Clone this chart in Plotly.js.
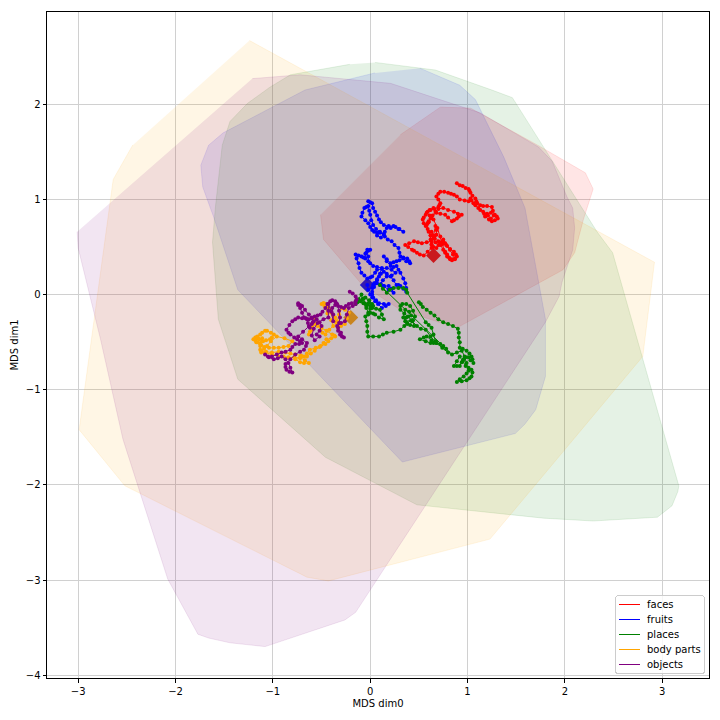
<!DOCTYPE html>
<html>
<head>
<meta charset="utf-8">
<script src="https://cdn.plot.ly/plotly-3.0.1.min.js"></script>
<style>html,body{margin:0;padding:0;background:#fff}</style>
</head>
<body>
<div id="plot" style="width:720px;height:720px"></div>
<script>
var categories = ['faces', 'fruits', 'places', 'body parts', 'objects'];
var colors = ['#ff0000', '#0000ff', '#008000', '#ffa500', '#800080'];

// hull outlines, [dim0, dim1]
var hullFaces = [[-.51,.84],[-.48,.58],[-.08,.10],[.31,-.16],[.89,-.35],[1.98,.26],[2.10,.44],[2.19,.79],[2.29,1.11],[2.21,1.28],[1.72,1.57],[1.03,1.96],[.72,1.97],[.31,1.68]];
var hullFruits = [[.51,2.38],[.92,2.20],[1.08,2.05],[1.37,1.45],[1.59,.91],[1.80,-.26],[1.80,-.86],[1.70,-1.21],[1.59,-1.36],[1.49,-1.46],[.33,-1.76],[-1.36,.05],[-1.61,.82],[-1.72,1.13],[-1.74,1.36],[-1.66,1.57],[-1.51,1.70],[-.67,2.15],[.05,2.33]];
var hullPlaces = [[.05,2.44],[.67,2.36],[1.25,2.15],[1.46,2.07],[2.33,.66],[2.49,.44],[3.17,-2.01],[3.16,-2.07],[3.10,-2.22],[2.95,-2.34],[2.29,-2.38],[1.78,-2.35],[.48,-2.21],[-.46,-1.71],[-1.36,-.89],[-1.56,-.26],[-1.62,.55],[-1.59,.92],[-1.52,1.57],[-1.44,1.82],[-1.26,2.01],[-1.03,2.18],[-.82,2.31],[-.21,2.42]];
var hullBody = [[-1.24,2.67],[2.92,.34],[2.80,-.65],[1.23,-2.57],[-.43,-3.01],[-.65,-2.97],[-2.52,-2.01],[-2.99,-1.42],[-2.64,1.21],[-2.57,1.34],[-2.44,1.57]];
var hullObjects = [[-1.21,2.27],[-.72,2.31],[.21,2.22],[1.13,1.91],[1.73,1.55],[1.87,1.40],[2.02,1.03],[2.08,.91],[2.10,.70],[2.08,.47],[1.97,.13],[1.94,-.02],[1.80,-.29],[-.15,-3.34],[-.26,-3.42],[-1.08,-3.70],[-1.44,-3.66],[-1.66,-3.61],[-1.77,-3.57],[-2.08,-2.99],[-2.54,-1.52],[-2.77,-.47],[-3.00,.49],[-3.01,.60],[-3.01,.66]];

// trajectories, [dim0, dim1]
var facesPath = [[.89,1.17],[.92,1.15],[.95,1.14],[.98,1.12],[1.01,1.11],[1.02,1.09],[1.03,1.07],[1.05,1.04],[1.08,1.01],[1.09,.98],[1.10,.96],[1.13,.94],[1.16,.93],[1.20,.93],[1.25,.92],[1.26,.88],[1.28,.84],[1.30,.82],[1.31,.80],[1.28,.78],[1.25,.77],[1.22,.79],[1.18,.82],[1.20,.85],[1.24,.86],[1.27,.83],[1.24,.80],[1.21,.83],[1.17,.85],[1.16,.87],[1.13,.89],[1.11,.91],[1.08,.94],[1.06,.96],[1.04,.99],[1.03,1.01],[1.01,.98],[.97,.99],[.92,1.00],[.89,1.03],[.86,1.05],[.83,1.06],[.80,1.07],[.76,1.08],[.72,1.08],[.70,1.06],[.68,1.03],[.70,1.00],[.72,.96],[.71,.94],[.70,.92],[.66,.90],[.62,.89],[.59,.87],[.57,.84],[.55,.81],[.54,.79],[.55,.75],[.57,.72],[.59,.75],[.60,.77],[.63,.82],[.67,.87],[.70,.90],[.75,.91],[.80,.89],[.86,.87],[.90,.85],[.94,.84],[.91,.82],[.89,.80],[.86,.78],[.84,.77],[.80,.81],[.77,.84],[.72,.85],[.68,.86],[.64,.83],[.62,.80],[.60,.76],[.58,.73],[.59,.69],[.60,.66],[.62,.62],[.65,.59],[.67,.55],[.70,.52],[.73,.55],[.75,.58],[.77,.54],[.79,.51],[.82,.48],[.86,.45],[.88,.42],[.89,.40],[.87,.37],[.84,.36],[.81,.39],[.79,.42],[.77,.45],[.75,.47],[.72,.52],[.70,.56],[.66,.61],[.63,.66],[.62,.62],[.62,.58],[.63,.53],[.63,.49],[.59,.45],[.55,.41],[.51,.42],[.48,.44],[.45,.46],[.43,.47],[.39,.50],[.36,.52],[.40,.54],[.45,.56],[.49,.55],[.53,.54],[.58,.55],[.63,.56],[.66,.59],[.68,.63],[.68,.68],[.67,.72],[.65,.62],[.63,.52],[.65,.50],[.68,.49],[.72,.53],[.75,.56],[.78,.52],[.82,.47],[.85,.42],[.87,.38],[.84,.37],[.82,.37],[.79,.40],[.77,.44],[.74,.53],[.72,.61],[.69,.70],[.65,.79],[.61,.83],[.58,.86],[.61,.89],[.65,.91]];
var fruitsPath = [[-.02,.98],[0,.97],[.02,.96],[.03,.91],[.05,.87],[.07,.83],[.09,.79],[.11,.76],[.14,.73],[.19,.72],[.24,.72],[.29,.69],[.34,.66],[.30,.69],[.26,.71],[.21,.70],[.17,.70],[.15,.66],[.14,.63],[.10,.65],[.07,.65],[.04,.66],[.02,.68],[0,.71],[-.02,.75],[-.05,.78],[-.09,.82],[-.08,.86],[-.06,.91],[-.04,.92],[-.02,.93],[-.01,.88],[0,.84],[.01,.78],[.03,.73],[.06,.69],[.10,.66],[.07,.62],[.11,.60],[.14,.64],[.15,.61],[.18,.58],[.22,.56],[.25,.52],[.29,.49],[.30,.44],[.31,.40],[.34,.39],[.38,.38],[.40,.35],[.41,.33],[.37,.35],[.34,.38],[.30,.36],[.27,.35],[.24,.34],[.21,.33],[.17,.37],[.14,.40],[.17,.35],[.21,.30],[.24,.29],[.27,.30],[.29,.26],[.31,.23],[.34,.17],[.36,.12],[.37,.07],[.37,.03],[.34,.06],[.31,.09],[.29,.10],[.27,.10],[.24,.15],[.21,.19],[.17,.22],[.14,.24],[.11,.22],[.09,.19],[.07,.15],[.05,.12],[.03,.10],[.02,.07],[.04,.12],[.07,.16],[.10,.22],[.12,.28],[.07,.29],[.03,.30],[0,.33],[-.02,.35],[-.02,.40],[-.04,.44],[-.02,.46],[0,.47],[-.03,.47],[-.05,.43],[-.05,.38],[-.07,.39],[-.09,.40],[-.12,.41],[-.15,.42],[-.14,.38],[-.12,.33],[-.11,.28],[-.09,.23],[-.06,.20],[-.03,.17],[0,.18],[.02,.19],[.05,.23],[.07,.26],[.12,.27],[.17,.28],[.22,.26],[.26,.23],[.22,.20],[.17,.19],[.13,.15],[.10,.10],[.14,.09],[.19,.09],[.22,.06],[.24,.02],[.19,.05],[.14,.09],[.11,.11],[.07,.12],[.04,.08],[.02,.03],[.02,0],[.03,-.03],[.06,-.06],[.09,-.09],[.14,-.10],[.19,-.10],[.16,-.12],[.12,-.14],[.08,-.10],[.05,-.07],[.02,-.03],[0,0],[-.02,.05],[-.03,.10]];
var placesPath = [[.50,-.08],[.52,-.10],[.54,-.13],[.58,-.16],[.62,-.19],[.66,-.22],[.70,-.26],[.75,-.29],[.80,-.31],[.85,-.33],[.90,-.36],[.91,-.40],[.91,-.45],[.92,-.50],[.92,-.56],[.95,-.57],[.99,-.59],[1.02,-.62],[1.04,-.65],[1.05,-.68],[1.06,-.72],[1.03,-.69],[1.01,-.66],[.98,-.66],[.96,-.68],[.94,-.71],[.92,-.75],[.89,-.75],[.86,-.75],[.89,-.70],[.92,-.65],[.95,-.70],[.98,-.75],[1.01,-.77],[1.04,-.79],[1.05,-.82],[1.04,-.86],[1.02,-.88],[.99,-.90],[.94,-.91],[.89,-.92],[.92,-.89],[.96,-.86],[.99,-.83],[1.01,-.80],[.99,-.72],[.97,-.65],[.94,-.59],[.89,-.61],[.84,-.63],[.10,.10],[.13,.06],[.17,.02],[.20,.05],[.24,.07],[.29,.07],[.34,.07],[.37,.05],[.38,.02],[.57,-.29],[.60,-.32],[.63,-.35],[.65,-.42],[.67,-.49],[.65,-.51],[.62,-.51],[.57,-.49],[.51,-.47],[.55,-.45],[.58,-.44],[.63,-.48],[.68,-.51],[.72,-.52],[.75,-.54],[.78,-.57],[.80,-.61],[.74,-.56],[.68,-.51],[.62,-.44],[.57,-.37],[.52,-.36],[.48,-.33],[.43,-.28],[.39,-.23],[.35,-.20],[.31,-.16],[.31,-.12],[.33,-.10],[.37,-.10],[.41,-.12],[.44,-.17],[.46,-.23],[.42,-.27],[.38,-.30],[.41,-.32],[.45,-.33],[.44,-.27],[.36,-.28],[.37,-.24],[.42,-.22],[.40,-.18],[.36,-.16],[.34,-.24],[.38,-.31],[.35,-.33],[.31,-.37],[.24,-.39],[.17,-.40],[.13,-.42],[.09,-.44],[.03,-.44],[-.02,-.44],[-.03,-.39],[-.03,-.33],[-.04,-.28],[-.05,-.23],[-.02,-.21],[0,-.19],[.03,-.20],[.05,-.21],[.09,-.24],[.14,-.26],[.12,-.21],[.10,-.16],[.06,-.15],[.02,-.14],[0,-.12],[-.03,-.10],[-.06,-.09],[-.10,-.07],[-.13,-.08],[-.15,-.10],[-.12,-.05],[-.09,0],[-.08,-.05],[-.07,-.09],[-.04,-.14],[-.02,-.19],[0,-.15],[.03,-.12],[-.01,-.08],[-.05,-.03],[-.01,-.06],[.02,-.10],[-.04,-.12],[-.07,-.04]];
var bodyPath = [[-.48,-.09],[-.46,-.10],[-.43,-.13],[-.41,-.16],[-.38,-.22],[-.34,-.28],[-.32,-.21],[-.29,-.14],[-.26,-.16],[-.22,-.19],[-.24,-.25],[-.26,-.31],[-.30,-.33],[-.33,-.35],[-.35,-.30],[-.36,-.24],[-.40,-.19],[-.43,-.14],[-.47,-.12],[-.50,-.10],[-.48,-.09],[-.44,-.20],[-.40,-.27],[-.38,-.33],[-.42,-.37],[-.46,-.42],[-.49,-.40],[-.51,-.37],[-.54,-.31],[-.57,-.24],[-.58,-.30],[-.60,-.35],[-.62,-.39],[-.63,-.42],[-.60,-.37],[-.57,-.31],[-.54,-.33],[-.50,-.35],[-.45,-.38],[-.39,-.42],[-.37,-.43],[-.36,-.44],[-.40,-.46],[-.45,-.47],[-.48,-.51],[-.51,-.54],[-.56,-.56],[-.62,-.58],[-.65,-.62],[-.68,-.65],[-.72,-.67],[-.77,-.68],[-.72,-.71],[-.68,-.72],[-.63,-.72],[-.67,-.69],[-.72,-.66],[-.78,-.66],[-.84,-.66],[-.89,-.65],[-.94,-.65],[-1.01,-.63],[-1.08,-.61],[-1.12,-.61],[-1.13,-.58],[-1.13,-.54],[-1.17,-.50],[-1.20,-.47],[-1.18,-.48],[-1.15,-.46],[-1.18,-.45],[-1.16,-.44],[-1.13,-.42],[-1.11,-.40],[-1.08,-.38],[-1.06,-.38],[-1.02,-.40],[-.99,-.42],[-1.01,-.45],[-1.03,-.47],[-1.07,-.48],[-1.10,-.49],[-1.14,-.47],[-1.11,-.46],[-1.13,-.51],[-1.16,-.50],[-1.12,-.53],[-1.09,-.55],[-1.04,-.56],[-.99,-.56],[-.94,-.56],[-.89,-.55],[-.84,-.54],[-.80,-.49],[-.88,-.46],[-.96,-.44],[-1.02,-.49],[-1.06,-.54],[-1.09,-.57],[-1.12,-.59],[-1.07,-.60],[-1.01,-.61],[-.94,-.60],[-.87,-.61],[-.82,-.62],[-.77,-.63],[-.71,-.64],[-.65,-.65],[-.61,-.62],[-.57,-.59],[-.52,-.55],[-.46,-.52],[-.43,-.49]];
var objectsPath = [[-.21,.03],[-.18,.01],[-.15,-.02],[-.14,-.05],[-.15,-.07],[-.19,-.09],[-.22,-.10],[-.25,-.12],[-.27,-.14],[-.30,-.13],[-.33,-.12],[-.35,-.09],[-.36,-.07],[-.39,-.06],[-.41,-.07],[-.44,-.10],[-.46,-.14],[-.49,-.18],[-.51,-.21],[-.54,-.22],[-.57,-.23],[-.60,-.24],[-.63,-.26],[-.66,-.25],[-.68,-.24],[-.70,-.19],[-.72,-.14],[-.74,-.11],[-.74,-.09],[-.72,-.11],[-.70,-.12],[-.67,-.16],[-.63,-.21],[-.60,-.25],[-.58,-.28],[-.60,-.31],[-.62,-.35],[-.64,-.30],[-.65,-.26],[-.70,-.25],[-.74,-.24],[-.77,-.26],[-.80,-.28],[-.83,-.32],[-.86,-.37],[-.84,-.40],[-.82,-.42],[-.78,-.45],[-.75,-.47],[-.72,-.49],[-.70,-.51],[-.73,-.52],[-.77,-.52],[-.80,-.55],[-.82,-.58],[-.87,-.60],[-.91,-.61],[-.96,-.63],[-1.01,-.65],[-1.05,-.65],[-1.08,-.63],[-1.04,-.66],[-.99,-.68],[-.95,-.67],[-.91,-.65],[-.87,-.68],[-.84,-.72],[-.82,-.77],[-.80,-.82],[-.83,-.81],[-.86,-.79],[-.87,-.76],[-.87,-.73],[-.82,-.68],[-.77,-.63],[-.72,-.60],[-.68,-.58],[-.66,-.54],[-.65,-.51],[-.70,-.47],[-.74,-.44],[-.69,-.39],[-.63,-.33],[-.59,-.29],[-.55,-.26],[-.52,-.29],[-.50,-.33],[-.52,-.38],[-.55,-.42],[-.52,-.44],[-.57,-.48],[-.60,-.43],[-.58,-.36],[-.54,-.30],[-.48,-.26],[-.43,-.24],[-.43,-.17],[-.43,-.10],[-.40,-.18],[-.38,-.28],[-.38,-.21],[-.39,-.14],[-.36,-.11],[-.34,-.10],[-.32,-.17],[-.31,-.24],[-.32,-.30],[-.33,-.35],[-.30,-.40],[-.27,-.45],[-.29,-.44],[-.31,-.42],[-.33,-.38],[-.34,-.33],[-.30,-.30],[-.26,-.28],[-.24,-.21],[-.22,-.14],[-.18,-.12],[-.15,-.10]];

// big diamonds
var diamondX = [.65, -.03, -.20];
var diamondY = [.41, .10, -.24];
var diamondColors = ['#ff0000', '#0000ff', '#ffa500'];

var hulls = [hullFaces, hullFruits, hullPlaces, hullBody, hullObjects];
var paths = [facesPath, fruitsPath, placesPath, bodyPath, objectsPath];

function col(points, k) {
    return points.map(function (p) { return p[k]; });
}

function fade(hex, a) {
    var n = parseInt(hex.slice(1), 16);
    return 'rgba(' + (n >> 16) + ',' + ((n >> 8) & 255) + ',' + (n & 255) + ',' + a + ')';
}

var traces = [];

traces.push({
    x: diamondX, y: diamondY, mode: 'markers', showlegend: false, hoverinfo: 'skip',
    marker: { symbol: 'diamond', size: 11.5, color: diamondColors }
});

categories.forEach(function (name, i) {
    traces.push({
        x: col(hulls[i], 0), y: col(hulls[i], 1), mode: 'lines', fill: 'toself', showlegend: false,
        fillcolor: fade(colors[i], 0.1), line: { width: 1, color: fade(colors[i], 0.1) }, hoverinfo: 'skip'
    });
});

categories.forEach(function (name, i) {
    traces.push({
        x: col(paths[i], 0), y: col(paths[i], 1), mode: 'lines', name: name,
        line: { color: colors[i], width: 1 }
    });
    traces.push({
        x: col(paths[i], 0), y: col(paths[i], 1), mode: 'markers', showlegend: false, hoverinfo: 'skip',
        marker: { color: colors[i], size: 4 }
    });
});

var axisStyle = {
    showgrid: true, gridcolor: '#d0d0d0', gridwidth: 1, zeroline: false,
    showline: true, mirror: true, linecolor: '#000', linewidth: 1,
    ticks: 'outside', ticklen: 3.5, tickwidth: 0.8, tickcolor: '#000', dtick: 1,
    tickfont: { size: 10, color: '#000' }
};

var layout = {
    width: 720, height: 720,
    margin: { l: 47, r: 11, t: 12, b: 42 },
    paper_bgcolor: '#fff', plot_bgcolor: '#fff',
    font: { family: 'DejaVu Sans', size: 10, color: '#000' },
    xaxis: Object.assign({}, axisStyle, {
        range: [-3.32, 3.48], title: { text: 'MDS dim0', font: { size: 10 }, standoff: 4 }
    }),
    yaxis: Object.assign({}, axisStyle, {
        range: [-4.03, 2.97], title: { text: 'MDS dim1', font: { size: 10 }, standoff: 5 }
    }),
    legend: {
        x: 0.992, y: 0.006, xanchor: 'right', yanchor: 'bottom',
        bgcolor: 'rgba(255,255,255,0.8)', bordercolor: '#cccccc', borderwidth: 1,
        font: { size: 10 }, itemwidth: 30
    },
    showlegend: true
};

Plotly.newPlot('plot', traces, layout, { displayModeBar: false }).then(function () {
    // plotly will not go below 19px rows, so tighten the legend by hand
    var legend = document.querySelector('.legend');
    legend.setAttribute('transform', 'translate(615,595)');
    var bg = legend.querySelector('.bg');
    bg.setAttribute('width', 89);
    bg.setAttribute('height', 78);
    bg.setAttribute('rx', 3);
    var clip = document.querySelector('clipPath[id^="legend"] rect');
    if (clip) { clip.setAttribute('width', 89); clip.setAttribute('height', 78); }
    legend.querySelectorAll('.traces').forEach(function (row, i) {
        row.setAttribute('transform', 'translate(0,' + (9.5 + i * 15) + ')');
        row.querySelector('.legendlines path').setAttribute('d', 'M4,0h21');
        row.querySelector('.legendtext').setAttribute('x', 32);
    });
});
</script>
</body>
</html>
